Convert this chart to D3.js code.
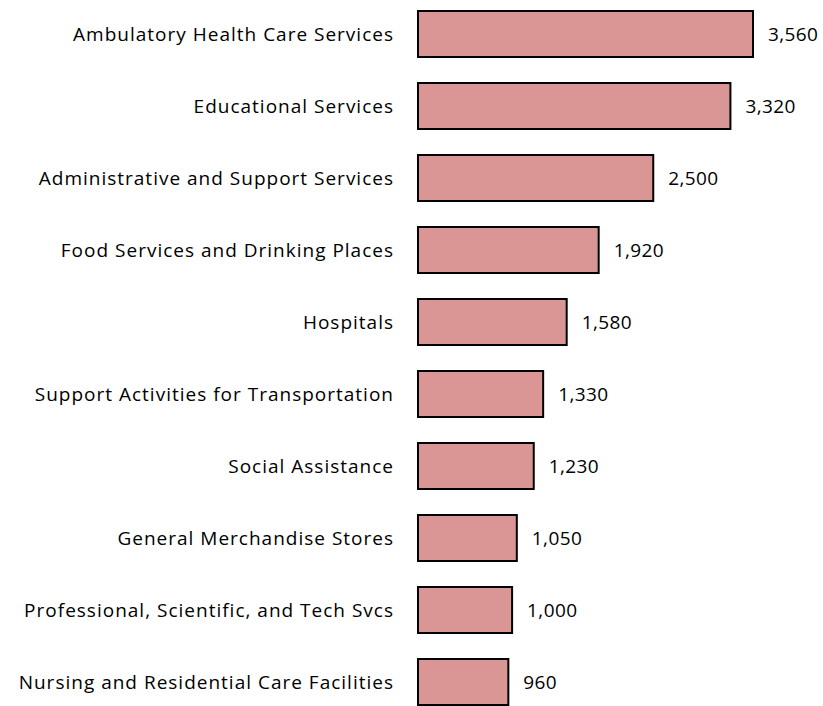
<!DOCTYPE html>
<html>
<head>
<meta charset="utf-8">
<script src="https://cdn.jsdelivr.net/npm/d3@7"></script>
<style>
  html, body { margin: 0; padding: 0; background: #fff; }
  svg { display: block; }
</style>
</head>
<body>
<svg id="chart"></svg>
<script>
var categories = [
  "Ambulatory Health Care Services",
  "Educational Services",
  "Administrative and Support Services",
  "Food Services and Drinking Places",
  "Hospitals",
  "Support Activities for Transportation",
  "Social Assistance",
  "General Merchandise Stores",
  "Professional, Scientific, and Tech Svcs",
  "Nursing and Residential Care Facilities"
];
var values = [3560, 3320, 2500, 1920, 1580, 1330, 1230, 1050, 1000, 960];

var full_width = 823, full_height = 706;
var font = "'Open Sans', sans-serif";

var svg = d3.select("#chart")
    .attr("width", full_width)
    .attr("height", full_height);

var x = d3.scaleLinear()
    .domain([0, d3.max(values)])
    .range([418, 753]);

var y = d3.scaleBand()
    .domain(categories)
    .range([10, 706])
    .paddingInner(1 / 3)
    .paddingOuter(0);

var fmt = d3.format(",");

var rows = svg.selectAll("g.row")
    .data(categories.map(function(c, i) { return { cat: c, val: values[i] }; }))
    .enter().append("g")
    .attr("class", "row");

rows.append("rect")
    .attr("x", x(0))
    .attr("y", function(d) { return y(d.cat) + 1; })
    .attr("width", function(d) { return x(d.val) - x(0); })
    .attr("height", y.bandwidth() - 2)
    .attr("fill", "#d99694")
    .attr("stroke", "#000")
    .attr("stroke-width", 2);

// category labels (spaced out a bit like the original)
rows.append("text")
    .attr("x", 394)
    .attr("y", function(d) { return y(d.cat) + y.bandwidth() / 2; })
    .attr("dy", "0.36em")
    .attr("text-anchor", "end")
    .style("font-family", font)
    .style("font-size", "19px")
    .style("letter-spacing", "1px")
    .attr("fill", "#000")
    .text(function(d) { return d.cat; });

// value labels
rows.append("text")
    .attr("x", function(d) { return x(d.val) + 15; })
    .attr("y", function(d) { return y(d.cat) + y.bandwidth() / 2; })
    .attr("dy", "0.36em")
    .style("font-family", font)
    .style("font-size", "19px")
    .style("letter-spacing", "0.4px")
    .attr("fill", "#000")
    .text(function(d) { return fmt(d.val); });
</script>
</body>
</html>
